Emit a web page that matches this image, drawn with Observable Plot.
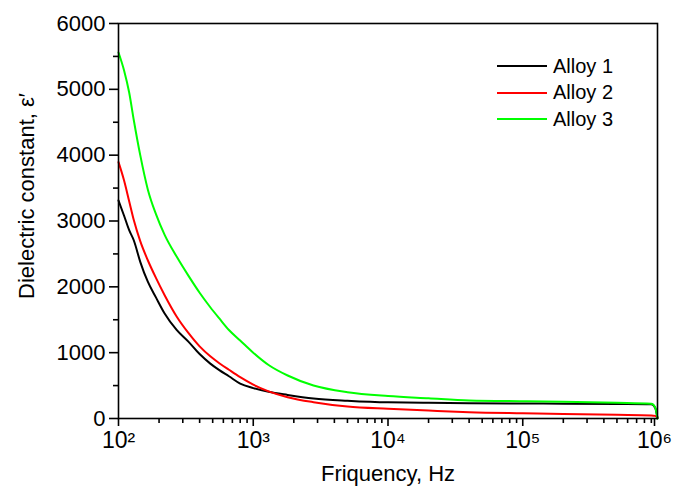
<!DOCTYPE html>
<html>
<head>
<meta charset="utf-8">
<script src="https://cdn.jsdelivr.net/npm/d3@7"></script>
<script src="https://cdn.jsdelivr.net/npm/@observablehq/plot@0.6"></script>
<style>
  html, body { margin: 0; padding: 0; background: #fff; }
  #wrap { position: relative; width: 673px; height: 495px; font-family: "Liberation Sans", Arial, sans-serif; }
  #legend { position: absolute; left: 497px; top: 53px; font-size: 20px; color: #000; }
  .row { display: flex; align-items: center; height: 26.5px; }
  .sw { width: 50px; height: 2px; margin-right: 6px; }
</style>
</head>
<body>
<div id="wrap"></div>
<script>
// Frequency (Hz)
const freq = [100,110,120,130,145,165,190,220,270,330,400,480,560,660,800,1000,1300,1800,2800,5000,10000,20000,40000,100000,200000,500000,900000,960000,1000000];
// Dielectric constant values
const alloy1 = [3312,3080,2860,2704,2380,2078,1836,1595,1345,1167,979,834,735,642,530,462,405,358,305,270,245,240,233,228,225,220,215,165,0];
const alloy2 = [3894,3615,3300,3010,2694,2404,2132,1873,1550,1300,1096,945,840,740,627,514,413,324,248,182,147,120,96,80,70,56,46,40,15];
const alloy3 = [5560,5287,4952,4527,4000,3480,3100,2790,2460,2170,1910,1690,1520,1345,1185,1000,813,653,501,400,342,307,274,262,255,238,223,170,0];
const seriesNames = ["Alloy 1", "Alloy 2", "Alloy 3"];
const seriesColors = ["#000000", "#ff0000", "#00ff00"];
const xMajor = [1e2, 1e3, 1e4, 1e5, 1e6];
const xMajorLabels = ["10\u00B2", "10\u00B3", "10\u2074", "10\u2075", "10\u2076"];
const yMajor = [0, 1000, 2000, 3000, 4000, 5000, 6000];
const yMinor = [500, 1500, 2500, 3500, 4500, 5500];
const xTitle = "Friquency, Hz";
const yTitle = "Dielectric constant, \u03B5\u2032";

const xMinor = [];
for (let e = 2; e < 6; e++) for (let m = 2; m <= 9; m++) xMinor.push(m * 10 ** e);

const allSeries = [alloy1, alloy2, alloy3];
const rows = [];
allSeries.forEach((vals, i) => vals.forEach((v, j) => rows.push({f: freq[j], v, s: seriesNames[i]})));

const fmtX = d => xMajorLabels[xMajor.indexOf(d)];
const font = "Liberation Sans, Arial, sans-serif";
const chart = Plot.plot({
  width: 673,
  height: 495,
  marginLeft: 118,
  marginRight: 16,
  marginTop: 23,
  marginBottom: 77,
  style: {fontFamily: font, color: "#000", background: "#fff"},
  x: {type: "log", domain: [100, 1e6]},
  y: {domain: [0, 6000]},
  color: {domain: seriesNames, range: seriesColors},
  marks: [
    Plot.line(rows, {x: "f", y: "v", z: "s", stroke: "s", strokeWidth: 2, curve: "monotone-x"}),
    Plot.frame({stroke: "#000", strokeWidth: 1.6}),
    Plot.axisY(yMajor, {label: null, tickSize: 9, tickPadding: 4, fontSize: 22, strokeWidth: 1.6, tickFormat: d => String(d)}),
    Plot.axisY(yMinor, {label: null, tickSize: 5, strokeWidth: 1.6, tickFormat: () => ""}),
    Plot.axisX(xMajor.slice(0, 4), {label: null, tickSize: 8, tickPadding: 5, fontSize: 23, strokeWidth: 1.6, tickFormat: fmtX}),
    Plot.axisX(xMajor.slice(4), {label: null, tickSize: 8, tickPadding: 5, fontSize: 23, strokeWidth: 1.6, dx: -3, tickFormat: fmtX}),
    Plot.axisX(xMinor, {label: null, tickSize: 5, strokeWidth: 1.6, tickFormat: () => ""}),
    Plot.text([xTitle], {frameAnchor: "bottom", dy: 62, fontSize: 22, fill: "#000"}),
    Plot.text([yTitle], {frameAnchor: "left", textAnchor: "middle", rotate: -90, dx: -92, dy: -25, fontSize: 22, fill: "#000"})
  ]
});
const wrap = document.getElementById("wrap");
wrap.appendChild(chart);

const legend = document.createElement("div");
legend.id = "legend";
seriesNames.forEach((n, i) => {
  const r = document.createElement("div");
  r.className = "row";
  const sw = document.createElement("div");
  sw.className = "sw";
  sw.style.background = seriesColors[i];
  const t = document.createElement("span");
  t.textContent = n;
  r.appendChild(sw); r.appendChild(t);
  legend.appendChild(r);
});
wrap.appendChild(legend);
</script>
</body>
</html>
